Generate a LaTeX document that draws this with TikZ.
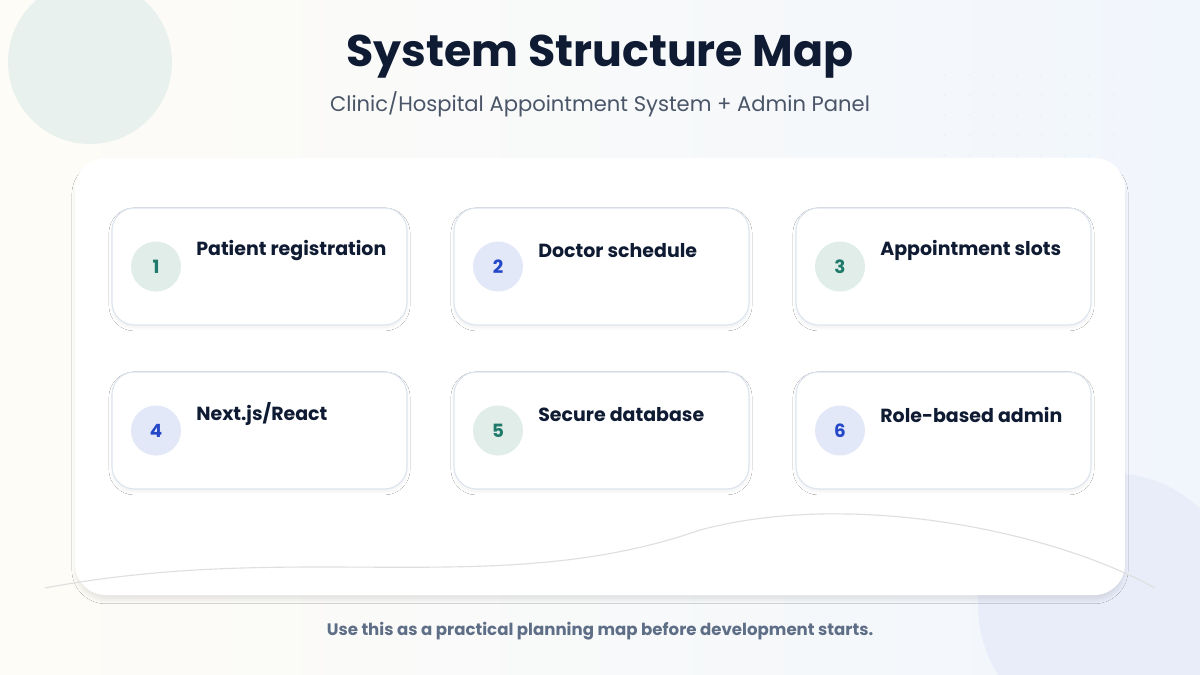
\documentclass[tikz,border=0pt]{standalone}
\usepackage{fontspec}
\setmainfont{Poppins}
\usetikzlibrary{shadows.blur}
\definecolor{navy}{HTML}{0F1B33}
\definecolor{subg}{HTML}{4A5568}
\definecolor{footg}{HTML}{5E6E86}
\definecolor{gfill}{HTML}{E0EDE8}
\definecolor{gtext}{HTML}{1F7A6B}
\definecolor{bfill}{HTML}{E2E8F8}
\definecolor{btext}{HTML}{2548C8}
\definecolor{cardb}{HTML}{DDE5EF}
\definecolor{bgl}{HTML}{FEFCF7}
\definecolor{bgr}{HTML}{F1F6FC}
\tikzset{
  card/.style={draw=cardb,line width=0.8pt,fill=white,rounded corners=16pt,minimum width=295*0.025cm,minimum height=117*0.025cm,blur shadow={shadow blur steps=8,shadow xshift=0pt,shadow yshift=-2pt,shadow opacity=6}},
  numg/.style={circle,fill=gfill,text=gtext,minimum size=50*0.025cm,inner sep=0pt,font=\fontsize{13}{15}\selectfont\bfseries},
  numb/.style={circle,fill=bfill,text=btext,minimum size=50*0.025cm,inner sep=0pt,font=\fontsize{13}{15}\selectfont\bfseries},
  lbl/.style={anchor=west,text=navy,font=\fontsize{13.5}{15}\selectfont\bfseries,inner sep=0pt}
}
\begin{document}
\begin{tikzpicture}[x=0.025cm,y=-0.025cm]
\fill[left color=bgl, right color=bgr] (0,0) rectangle (1200,675);
\useasboundingbox (0,0) rectangle (1200,675);
\fill[gfill!75] (90,62) circle (82);
\fill[bfill!80!white] (1110,605) circle (132);
\foreach \i in {0,...,7}{\foreach \j in {0,...,4}{\fill[cardb!50] (945+\i*24,75+\j*20) circle (1.2);}}
\node[text=navy,font=\fontsize{31.5}{36}\selectfont\bfseries] (title) at (600,57) {System Structure Map};
\node[text=subg,font=\fontsize{15}{17}\selectfont] (sub) at (600,104) {Clinic/Hospital Appointment System + Admin Panel};
\node[fill=white,rounded corners=22pt,minimum width=1050*0.025cm,minimum height=437*0.025cm,blur shadow={shadow blur steps=12,shadow xshift=0pt,shadow yshift=-4pt,shadow opacity=8}] (panel) at (600,376.5) {};
\draw[gray!25,line width=0.8pt] (45,588) .. controls (300,540) and (500,600) .. (700,530) .. controls (850,490) and (1050,530) .. (1155,588);
\foreach \n/\cx/\cy/\st/\t in {1/259.5/266.5/numg/{Patient registration},2/601.5/266.5/numb/{Doctor schedule},3/943.5/266.5/numg/{Appointment slots},4/259.5/430.5/numb/{Next.js/React},5/601.5/430.5/numg/{Secure database},6/943.5/430.5/numb/{Role-based admin}}{
  \node[card] (c\n) at (\cx,\cy) {};
  \node[\st] (n\n) at (\cx-103.5,\cy) {\n};
  \node[lbl] (l\n) at (\cx-63.5,\cy-16) {\t};
}
\node[text=footg,font=\fontsize{11.8}{14}\selectfont\bfseries] (foot) at (600,631) {Use this as a practical planning map before development starts.};
\end{tikzpicture}
\end{document}
